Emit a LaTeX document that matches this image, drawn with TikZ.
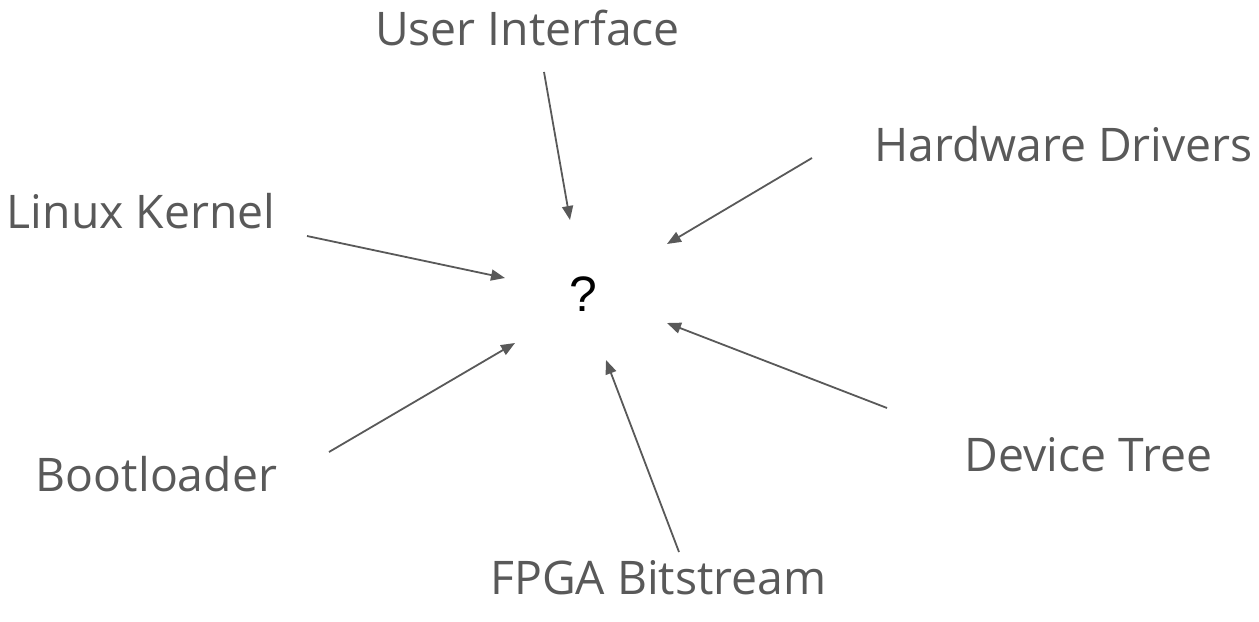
\documentclass[tikz,border=0pt]{standalone}
\usepackage{fontspec}
\setmainfont{Open Sans}
\newfontfamily\qfont{Liberation Sans}
\usetikzlibrary{arrows.meta}
\definecolor{labelgray}{HTML}{595959}
\begin{document}
\begin{tikzpicture}[x=1bp,y=-1bp,
  part/.style={anchor=base,inner sep=0pt,text=labelgray,font=\fontsize{46.5}{56}\selectfont},
  feed/.style={draw=labelgray,line width=1.8bp,-{Triangle[length=14bp,width=11bp]}}]
\useasboundingbox (0,0) rectangle (1259,622);

% the unknown in the middle
\node[anchor=base,inner sep=0pt,font=\qfont\fontsize{50}{60}\selectfont] (q) at (583,312) {?};

% the parts around it
\node[part] (ui)   at (527.5,46)  {User Interface};
\node[part] (hw)   at (1063.5,162) {Hardware Drivers};
\node[part] (lk)   at (141,229)   {Linux Kernel};
\node[part] (bl)   at (156.5,491) {Bootloader};
\node[part] (dt)   at (1088.5,471) {Device Tree};
\node[part] (fpga) at (658.5,594) {FPGA Bitstream};

% arrow ends
\coordinate (ui-t) at (544,72);   \coordinate (ui-h) at (570,220);
\coordinate (hw-t) at (812,158);  \coordinate (hw-h) at (667,244);
\coordinate (lk-t) at (307,236);  \coordinate (lk-h) at (505,278);
\coordinate (bl-t) at (329,452);  \coordinate (bl-h) at (515,343);
\coordinate (fp-t) at (679,552);  \coordinate (fp-h) at (606,360);
\coordinate (dt-t) at (887,408);  \coordinate (dt-h) at (667,323);

\draw[feed] (ui-t) -- (ui-h);
\draw[feed] (hw-t) -- (hw-h);
\draw[feed] (lk-t) -- (lk-h);
\draw[feed] (bl-t) -- (bl-h);
\draw[feed] (fp-t) -- (fp-h);
\draw[feed] (dt-t) -- (dt-h);
\end{tikzpicture}
\end{document}
